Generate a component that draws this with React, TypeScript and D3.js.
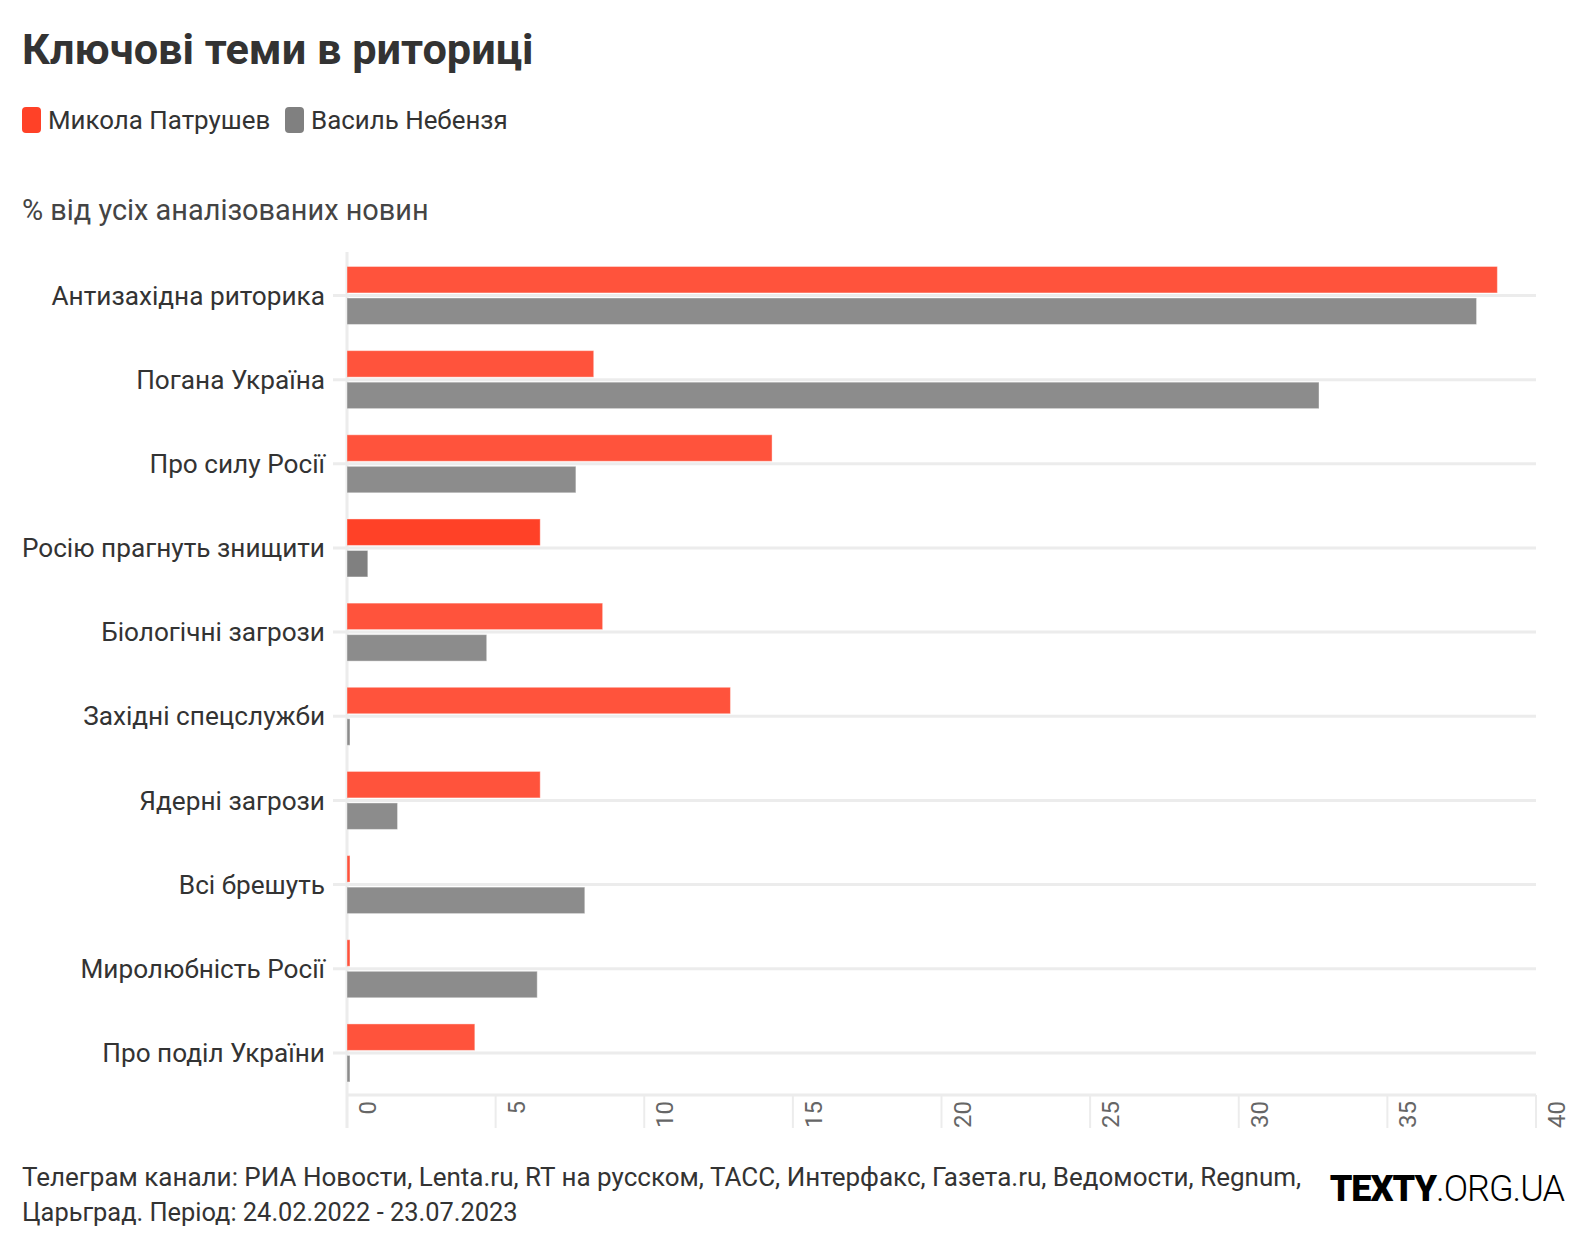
import React from "react"
import { scaleLinear, scaleBand } from "d3"

const title = "Ключові теми в риториці"
const subtitle = "% від усіх аналізованих новин"
const seriesNames = ["Микола Патрушев", "Василь Небензя"]
const seriesColors = ["#ff4127", "#808080"]
const categories = [
  "Антизахідна риторика",
  "Погана Україна",
  "Про силу Росії",
  "Росію прагнуть знищити",
  "Біологічні загрози",
  "Західні спецслужби",
  "Ядерні загрози",
  "Всі брешуть",
  "Миролюбність Росії",
  "Про поділ України",
]
const patrushev = [38.7, 8.3, 14.3, 6.5, 8.6, 12.9, 6.5, 0.1, 0.1, 4.3]
const nebenzia = [38.0, 32.7, 7.7, 0.7, 4.7, 0.1, 1.7, 8.0, 6.4, 0.1]
const highlighted = "Росію прагнуть знищити"
const footerLines = [
  "Телеграм канали: РИА Новости, Lenta.ru, RT на русском, ТАСС, Интерфакс, Газета.ru, Ведомости, Regnum,",
  "Царьград. Період: 24.02.2022 - 23.07.2023",
]

const FONT = "Roboto, 'Noto Sans', sans-serif"
const W = 1592
const H = 1248
const margin = { top: 253.4, right: 56, bottom: 153, left: 347 }

export default function App() {
  const x = scaleLinear()
    .domain([0, 40])
    .range([margin.left, W - margin.right])

  const y = scaleBand()
    .domain(categories)
    .range([margin.top, H - margin.bottom])

  const sub = scaleBand()
    .domain(seriesNames)
    .range([0, y.bandwidth()])
    .paddingInner(0.16)
    .paddingOuter(0.415)

  const values = [patrushev, nebenzia]
  const axisY = H - margin.bottom

  return (
    <svg
      width={W}
      height={H}
      style={{ position: "absolute", left: 0, top: 0, background: "#fff" }}
      fontFamily={FONT}
    >
      <text x={22} y={64} fontSize={43.3} fontWeight={700} fill="#333">
        {title}
      </text>

      {seriesNames.map((name, i) => {
        const lx = i === 0 ? 22 : 285
        return (
          <g key={name}>
            <rect x={lx} y={107} width={19} height={26} rx={4} fill={seriesColors[i]} />
            <text x={lx + 26} y={120} dy="0.35em" fontSize={25.9} fill="#333">
              {name}
            </text>
          </g>
        )
      })}

      <text x={22} y={210} dy="0.35em" fontSize={28.9} fill="#444">
        {subtitle}
      </text>

      {/* row gridlines */}
      {categories.map(c => (
        <line
          key={c}
          x1={333}
          x2={x(40)}
          y1={y(c) + y.bandwidth() / 2}
          y2={y(c) + y.bandwidth() / 2}
          stroke="#ececec"
          strokeWidth={3}
        />
      ))}

      {/* y axis line */}
      <line x1={x(0)} x2={x(0)} y1={252} y2={axisY + 33} stroke="#ececec" strokeWidth={3} />

      {/* x axis */}
      <line x1={x(0) - 1} x2={x(40)} y1={axisY} y2={axisY} stroke="#ececec" strokeWidth={3} />
      {x.ticks(8).map(t => (
        <g key={t}>
          <line x1={x(t)} x2={x(t)} y1={axisY} y2={axisY + 33} stroke="#ececec" strokeWidth={2} />
          <text
            transform={`translate(${x(t) + 29},${axisY + 6}) rotate(-90)`}
            textAnchor="end"
            fontSize={24}
            fill="#666"
          >
            {t}
          </text>
        </g>
      ))}

      {/* category labels */}
      {categories.map(c => (
        <text
          key={c}
          x={325}
          y={y(c) + y.bandwidth() / 2}
          dy="0.35em"
          textAnchor="end"
          fontSize={26.2}
          fill="#333"
        >
          {c}
        </text>
      ))}

      {/* bars */}
      {categories.map((c, ci) => (
        <g key={c} opacity={c === highlighted ? 1 : 0.9}>
          {seriesNames.map((s, si) => (
            <rect
              key={s}
              x={x(0)}
              y={y(c) + sub(s)}
              width={x(values[si][ci]) - x(0)}
              height={sub.bandwidth()}
              fill={seriesColors[si]}
              stroke="#fff"
              strokeOpacity={0.4}
              strokeWidth={1}
            />
          ))}
        </g>
      ))}

      {footerLines.map((line, i) => (
        <text key={i} x={22} y={1177 + i * 35} dy="0.35em" fontSize={i === 0 ? 26 : 25.4} fill="#333">
          {line}
        </text>
      ))}

      <text x={1564} y={1188} dy="0.35em" textAnchor="end" fontSize={36} fill="#000" letterSpacing={-1}>
        <tspan fontWeight={900}>TEXTY</tspan>
        <tspan fontWeight={300}>.ORG.UA</tspan>
      </text>
    </svg>
  )
}
